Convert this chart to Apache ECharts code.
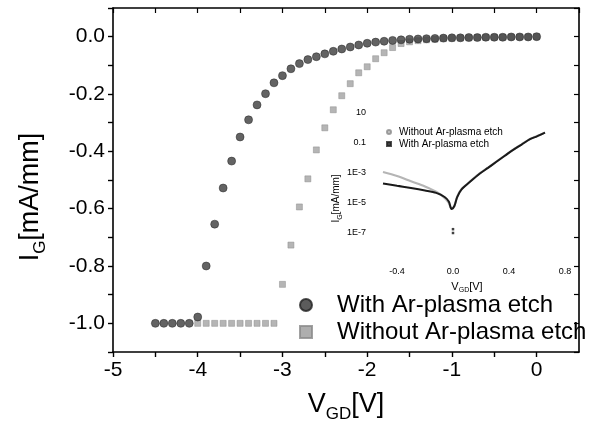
<!DOCTYPE html>
<html>
<head>
<meta charset="utf-8">
<script src="https://cdn.jsdelivr.net/npm/echarts@6/dist/echarts.min.js"></script>
<style>html,body{margin:0;padding:0;background:#fff;}#c{width:595px;height:430px;}</style>
</head>
<body>
<div id="c"></div>
<script>
// ---- Main plot data (V_GD [V], I_G [mA/mm]) ----
const vWith = [-4.5,-4.4,-4.3,-4.2,-4.1,-4.0,-3.9,-3.8,-3.7,-3.6,-3.5,-3.4,-3.3,-3.2,-3.1,-3.0,-2.9,-2.8,-2.7,-2.6,-2.5,-2.4,-2.3,-2.2,-2.1,-2.0,-1.9,-1.8,-1.7,-1.6,-1.5,-1.4,-1.3,-1.2,-1.1,-1.0,-0.9,-0.8,-0.7,-0.6,-0.5,-0.4,-0.3,-0.2,-0.1,0.0];
const iWith = [-1.0,-1.0,-1.0,-1.0,-1.0,-0.978,-0.80,-0.654,-0.528,-0.434,-0.350,-0.290,-0.238,-0.199,-0.161,-0.136,-0.112,-0.094,-0.080,-0.070,-0.060,-0.051,-0.043,-0.036,-0.029,-0.023,-0.019,-0.016,-0.013,-0.011,-0.009,-0.008,-0.007,-0.006,-0.005,-0.004,-0.004,-0.003,-0.003,-0.002,-0.002,-0.002,-0.001,-0.001,-0.001,0.0];
const vWithout = [-4.0,-3.9,-3.8,-3.7,-3.6,-3.5,-3.4,-3.3,-3.2,-3.1,-3.0,-2.9,-2.8,-2.7,-2.6,-2.5,-2.4,-2.3,-2.2,-2.1,-2.0,-1.9,-1.8,-1.7,-1.6,-1.5,-1.4,-1.3,-1.2,-1.1,-1.0,-0.9,-0.8,-0.7,-0.6,-0.5,-0.4,-0.3,-0.2,-0.1,0.0];
const iWithout = [-1.0,-1.0,-1.0,-1.0,-1.0,-1.0,-1.0,-1.0,-1.0,-1.0,-0.864,-0.727,-0.594,-0.496,-0.395,-0.318,-0.255,-0.206,-0.164,-0.126,-0.105,-0.077,-0.056,-0.038,-0.024,-0.018,-0.014,-0.011,-0.009,-0.007,-0.006,-0.005,-0.004,-0.003,-0.003,-0.002,-0.002,-0.001,-0.001,-0.001,0.0];

// ---- Inset data (V_GD [V], |I_G| [mA/mm], log scale) ----
const insV = [-0.5,-0.4,-0.3,-0.2,-0.12,-0.06,-0.03,-0.01,0.01,0.03,0.06,0.12,0.19,0.25,0.31,0.37,0.43,0.49,0.55,0.60,0.657];
const insWith = [2.0e-4,1.4e-4,1.0e-4,6.8e-5,4.7e-5,2.5e-5,1.26e-5,4e-6,6.3e-6,2.5e-5,7.9e-5,2.5e-4,8.9e-4,2.2e-3,5.6e-3,1.4e-2,3.5e-2,7.9e-2,0.18,0.28,0.49];
const insWithout = [1.17e-3,6.3e-4,2.8e-4,1.26e-4,5.6e-5,2.2e-5,1.0e-5,4e-6,6.6e-6,2.6e-5,8.2e-5,2.6e-4,9.3e-4,2.3e-3,5.8e-3,1.45e-2,3.6e-2,8.1e-2,0.185,0.29,0.5];
const insDotsV = [0.0, 0.0];
const insDotsI = [1.8e-7, 1.0e-7];

const nameWith = 'With Ar-plasma etch';
const nameWithout = 'Without Ar-plasma etch';
const FONT = 'Liberation Sans';

const zip = (a, b) => a.map((v, i) => [v, b[i]]);

const chart = echarts.init(document.getElementById('c'), null, {renderer: 'canvas'});

const axisLine = {show: true, onZero: false, lineStyle: {color: '#000', width: 1.6}};
const mainXCommon = {type: 'value', gridIndex: 0, min: -5, max: 0.5, interval: 0.5, splitLine: {show: false}, axisLine: axisLine};
const mainYCommon = {type: 'value', gridIndex: 0, min: -1.1, max: 0.1, interval: 0.1, splitLine: {show: false}, axisLine: axisLine};

const option = {
  backgroundColor: '#fff',
  animation: false,
  textStyle: {fontFamily: FONT},
  grid: [
    {left: 113, top: 8, width: 466, height: 344},
    {left: 369, top: 98, width: 196, height: 165}
  ],
  xAxis: [
    Object.assign({}, mainXCommon, {
      position: 'bottom',
      axisTick: {show: true, inside: false, length: 5, lineStyle: {color: '#000', width: 1.4}},
      axisLabel: {
        color: '#000', fontSize: 21, fontFamily: FONT, margin: 8, showMaxLabel: false,
        formatter: v => Math.abs(v - Math.round(v)) < 1e-6 ? String(Math.round(v)) : ''
      },
      name: '{a|V}{s|GD}{a|[V]}',
      nameLocation: 'middle',
      nameGap: 39,
      nameTextStyle: {
        rich: {
          a: {fontSize: 27, lineHeight: 30, fontFamily: FONT, color: '#000', verticalAlign: 'top'},
          s: {fontSize: 17, lineHeight: 17, fontFamily: FONT, color: '#000', verticalAlign: 'top', padding: [15, 0, 0, 0]}
        }
      }
    }),
    Object.assign({}, mainXCommon, {
      position: 'top',
      axisTick: {show: true, inside: true, length: 5, lineStyle: {color: '#000', width: 1.2}},
      axisLabel: {show: false}
    }),
    {
      type: 'value', gridIndex: 1, min: -0.6, max: 0.8, interval: 0.2,
      splitLine: {show: false}, axisLine: {show: false, onZero: false}, axisTick: {show: false},
      axisLabel: {
        color: '#000', fontSize: 9, fontFamily: FONT, margin: 4,
        formatter: v => (Math.round(v * 10) % 4 === 0) ? (Math.abs(v) < 1e-9 ? '0.0' : v.toFixed(1)) : ''
      },
      name: '{a|V}{s|GD}{a|[V]}',
      nameLocation: 'middle',
      nameGap: 18,
      nameTextStyle: {
        rich: {
          a: {fontSize: 11, lineHeight: 12, fontFamily: FONT, color: '#000', verticalAlign: 'top'},
          s: {fontSize: 7, lineHeight: 7, fontFamily: FONT, color: '#000', verticalAlign: 'top', padding: [6, 0, 0, 0]}
        }
      }
    }
  ],
  yAxis: [
    Object.assign({}, mainYCommon, {
      position: 'left',
      axisTick: {show: true, inside: false, length: 5, lineStyle: {color: '#000', width: 1.4}},
      axisLabel: {
        color: '#000', fontSize: 21, fontFamily: FONT, margin: 8,
        formatter: v => (Math.round(v * 10) % 2 === 0) ? (Math.abs(v) < 1e-9 ? '0.0' : v.toFixed(1)) : ''
      },
      name: '{a|I}{s|G}{a|[mA/mm]}',
      nameLocation: 'middle',
      nameGap: 66,
      nameRotate: 90,
      nameTextStyle: {
        padding: [0, 34, 0, 0],
        rich: {
          a: {fontSize: 27, lineHeight: 30, fontFamily: FONT, color: '#000', verticalAlign: 'top'},
          s: {fontSize: 17, lineHeight: 17, fontFamily: FONT, color: '#000', verticalAlign: 'top', padding: [15, 0, 0, 0]}
        }
      }
    }),
    Object.assign({}, mainYCommon, {
      position: 'right',
      axisTick: {show: true, inside: true, length: 5, lineStyle: {color: '#000', width: 1.2}},
      axisLabel: {show: false}
    }),
    {
      type: 'log', logBase: 10, gridIndex: 1, min: 1e-9, max: 100, interval: 2,
      splitLine: {show: false}, axisLine: {show: false, onZero: false}, axisTick: {show: false},
      axisLabel: {
        color: '#000', fontSize: 9, fontFamily: FONT, margin: 3,
        formatter: v => {
          const e = Math.round(Math.log10(v));
          if (e === 1) return '10';
          if (e === -1) return '0.1';
          if (e <= -3 && e >= -7 && e % 2 !== 0) return '1E' + e;
          return '';
        }
      },
      name: '{a|I}{s|G}{a|[mA/mm]}',
      nameLocation: 'middle',
      nameGap: 26,
      nameRotate: 90,
      nameTextStyle: {
        padding: [0, 36, 0, 0],
        rich: {
          a: {fontSize: 10, lineHeight: 11, fontFamily: FONT, color: '#000', verticalAlign: 'top'},
          s: {fontSize: 7, lineHeight: 7, fontFamily: FONT, color: '#000', verticalAlign: 'top', padding: [5, 0, 0, 0]}
        }
      }
    }
  ],
  legend: [
    {
      orient: 'vertical', left: 294, top: 288, itemGap: 3, itemWidth: 12, itemHeight: 12,
      textStyle: {fontSize: 24, fontFamily: FONT, color: '#000', padding: [0, 0, 0, 20]},
      data: [
        {name: nameWith, icon: 'circle', itemStyle: {color: '#333'}},
        {name: nameWithout, icon: 'rect', itemStyle: {color: '#9a9a9a'}}
      ]
    },
    {
      orient: 'vertical', left: 381, top: 122, itemGap: 2, itemWidth: 4, itemHeight: 4,
      textStyle: {fontSize: 10, fontFamily: FONT, color: '#000', padding: [0, 0, 0, 3]},
      data: [
        {name: nameWithout, icon: 'circle', itemStyle: {color: '#bbb'}},
        {name: nameWith, icon: 'rect', itemStyle: {color: '#111'}}
      ]
    }
  ],
  series: [
    {
      name: nameWithout, type: 'scatter', xAxisIndex: 0, yAxisIndex: 0,
      symbol: 'rect', symbolSize: 6,
      itemStyle: {color: '#a3a3a3', borderColor: '#8a8a8a', borderWidth: 0.6},
      data: zip(vWithout, iWithout), z: 2
    },
    {
      name: nameWith, type: 'scatter', xAxisIndex: 0, yAxisIndex: 0,
      symbol: 'circle', symbolSize: 8,
      itemStyle: {color: '#3c3c3c', borderColor: '#222', borderWidth: 0.6},
      data: zip(vWith, iWith), z: 3
    },
    {
      name: nameWithout, type: 'line', xAxisIndex: 2, yAxisIndex: 2,
      showSymbol: false, smooth: 0.3,
      lineStyle: {color: '#b5b5b5', width: 2.2},
      itemStyle: {color: '#b5b5b5'},
      data: zip(insV, insWithout), z: 4
    },
    {
      name: nameWith, type: 'line', xAxisIndex: 2, yAxisIndex: 2,
      showSymbol: false, smooth: 0.3,
      lineStyle: {color: '#1a1a1a', width: 2},
      itemStyle: {color: '#1a1a1a'},
      data: zip(insV, insWith), z: 5
    },
    {
      name: nameWith, type: 'scatter', xAxisIndex: 2, yAxisIndex: 2,
      symbol: 'rect', symbolSize: 2.5,
      itemStyle: {color: '#111'},
      data: zip(insDotsV, insDotsI), z: 5
    }
  ]
};
chart.setOption(option);
</script>
</body>
</html>
